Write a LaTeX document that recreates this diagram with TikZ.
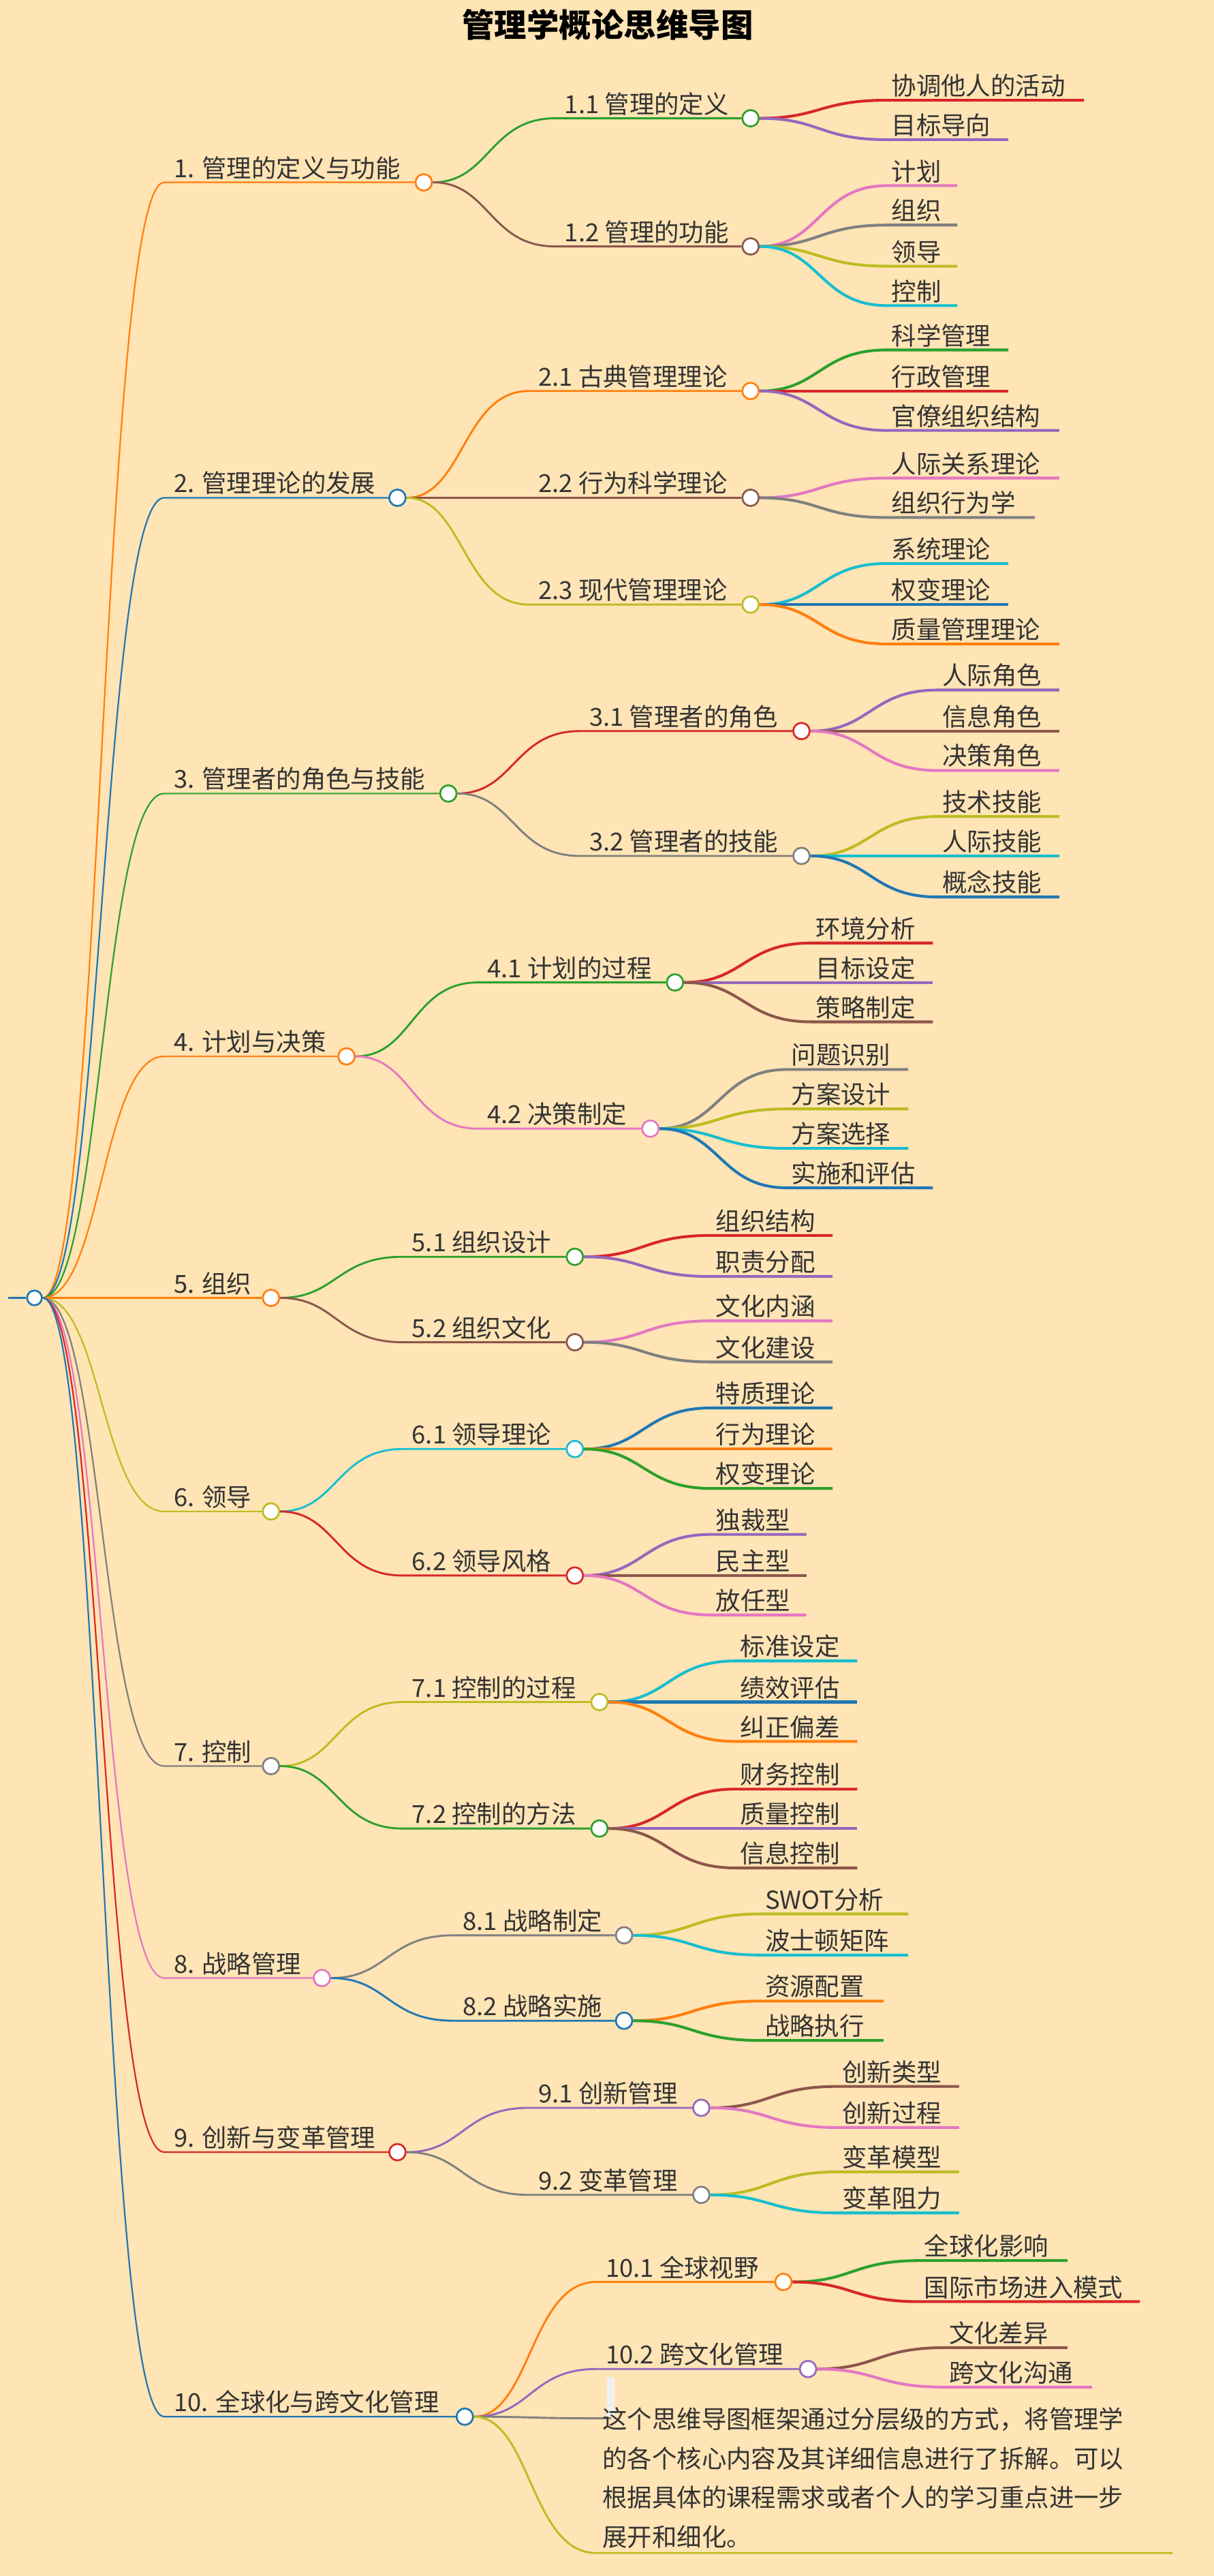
\documentclass[tikz,border=0pt]{standalone}
\usepackage{fontspec}
\setmainfont{Noto Sans CJK SC}
\usetikzlibrary{calc}
\pgfdeclarelayer{back}\pgfdeclarelayer{bg}\pgfsetlayers{back,bg,main}
\definecolor{cO}{HTML}{FF7F0E}\definecolor{cB}{HTML}{1F77B4}\definecolor{cG}{HTML}{2CA02C}
\definecolor{cR}{HTML}{D62728}\definecolor{cP}{HTML}{9467BD}\definecolor{cN}{HTML}{8C564B}
\definecolor{cK}{HTML}{E377C2}\definecolor{cA}{HTML}{7F7F7F}\definecolor{cY}{HTML}{BCBD22}
\definecolor{cC}{HTML}{17BECF}\definecolor{bgc}{HTML}{FFE4B5}\definecolor{tc}{HTML}{333333}
\tikzset{
 dot/.style={circle,fill=white,minimum size=0.5cm,inner sep=0pt,line width=1.6pt},
 txt/.style={inner sep=1pt,font=\fontsize{21.5}{26}\selectfont,text=tc},
 e1/.style={line width=1.3pt},e2/.style={line width=1.7pt},e3/.style={line width=2.4pt}}
% level 1: id y cx color text
\newcommand\Lone[5]{%
 \coordinate (#1s) at (100,#2);
 \node[dot,draw=#4] (#1c) at (#3,#2) {};
 \begin{pgfonlayer}{bg}\draw[#4,e1] (root) .. controls (root -| m0) and (#1s -| m0) .. (#1s) -- (#1c);\end{pgfonlayer}
 \node[txt,anchor=south west] (#1t) at ($(#1s)+(5,-1)$) {#5};}
% level 2: id parent y cx color text
\newcommand\Ltwo[6]{%
 \path (#2c) ++(80,0) coordinate (#1a) (#2c) ++(40,0) coordinate (#1m);
 \coordinate (#1y) at (0,#3);
 \coordinate (#1s) at (#1a |- #1y);
 \node[dot,draw=#5] (#1c) at (#4,#3) {};
 \begin{pgfonlayer}{bg}\draw[#5,e2] (#2c) .. controls (#2c -| #1m) and (#1s -| #1m) .. (#1s) -- (#1c);\end{pgfonlayer}
 \node[txt,anchor=south west] (#1t) at ($(#1s)+(5,-1)$) {#6};}
% level 3 leaf: id parent y endx color text
\newcommand\Lthr[6]{%
 \path (#2c) ++(83,0) coordinate (#1a) (#2c) ++(42,0) coordinate (#1m);
 \coordinate (#1y) at (0,#3);
 \coordinate (#1s) at (#1a |- #1y);
 \coordinate (#1e) at (#4,#3);
 \begin{pgfonlayer}{bg}\draw[#5,e3] (#2c) .. controls (#2c -| #1m) and (#1s -| #1m) .. (#1s) -- (#1e);\end{pgfonlayer}
 \node[txt,anchor=south west] (#1t) at ($(#1s)+(2,-1)$) {#6};}
\begin{document}
\begin{tikzpicture}[x=0.05cm,y=-0.05cm]
\begin{pgfonlayer}{back}\fill[bgc] (0,0) rectangle (739,1568);\end{pgfonlayer}
\useasboundingbox (0,0) rectangle (739,1568);
\node[font=\fontsize{28}{32}\selectfont\bfseries,text=black] (title) at (370,15) {管理学概论思维导图};
\coordinate (m0) at (62,0);
\coordinate (r0) at (5,790);
\node[dot,draw=cB,minimum size=0.45cm] (root) at (21,790) {};
\begin{pgfonlayer}{bg}\draw[cB,e1] (r0) -- (root);\end{pgfonlayer}
% 1
\Lone{a}{111}{258}{cO}{1. 管理的定义与功能}
\Ltwo{aa}{a}{72}{457}{cG}{1.1 管理的定义}
\Lthr{aaa}{aa}{61}{660}{cR}{协调他人的活动}
\Lthr{aab}{aa}{85}{614}{cP}{目标导向}
\Ltwo{ab}{a}{150}{457}{cN}{1.2 管理的功能}
\Lthr{aba}{ab}{113}{583}{cK}{计划}
\Lthr{abb}{ab}{137}{583}{cA}{组织}
\Lthr{abc}{ab}{162}{583}{cY}{领导}
\Lthr{abd}{ab}{186}{583}{cC}{控制}
% 2
\Lone{b}{303}{242}{cB}{2. 管理理论的发展}
\Ltwo{ba}{b}{238}{457}{cO}{2.1 古典管理理论}
\Lthr{baa}{ba}{213}{614}{cG}{科学管理}
\Lthr{bab}{ba}{238}{614}{cR}{行政管理}
\Lthr{bac}{ba}{262}{645}{cP}{官僚组织结构}
\Ltwo{bb}{b}{303}{457}{cN}{2.2 行为科学理论}
\Lthr{bba}{bb}{291}{645}{cK}{人际关系理论}
\Lthr{bbb}{bb}{315}{630}{cA}{组织行为学}
\Ltwo{bc}{b}{368}{457}{cY}{2.3 现代管理理论}
\Lthr{bca}{bc}{343}{614}{cC}{系统理论}
\Lthr{bcb}{bc}{368}{614}{cB}{权变理论}
\Lthr{bcc}{bc}{392}{645}{cO}{质量管理理论}
% 3
\Lone{c}{483}{273}{cG}{3. 管理者的角色与技能}
\Ltwo{ca}{c}{445}{488}{cR}{3.1 管理者的角色}
\Lthr{caa}{ca}{420}{645}{cP}{人际角色}
\Lthr{cab}{ca}{445}{645}{cN}{信息角色}
\Lthr{cac}{ca}{469}{645}{cK}{决策角色}
\Ltwo{cb}{c}{521}{488}{cA}{3.2 管理者的技能}
\Lthr{cba}{cb}{497}{645}{cY}{技术技能}
\Lthr{cbb}{cb}{521}{645}{cC}{人际技能}
\Lthr{cbc}{cb}{546}{645}{cB}{概念技能}
% 4
\Lone{d}{643}{211}{cO}{4. 计划与决策}
\Ltwo{da}{d}{598}{411}{cG}{4.1 计划的过程}
\Lthr{daa}{da}{574}{568}{cR}{环境分析}
\Lthr{dab}{da}{598}{568}{cP}{目标设定}
\Lthr{dac}{da}{622}{568}{cN}{策略制定}
\Ltwo{db}{d}{687}{396}{cK}{4.2 决策制定}
\Lthr{dba}{db}{651}{553}{cA}{问题识别}
\Lthr{dbb}{db}{675}{553}{cY}{方案设计}
\Lthr{dbc}{db}{699}{553}{cC}{方案选择}
\Lthr{dbd}{db}{723}{568}{cB}{实施和评估}
% 5
\Lone{e}{790}{165}{cO}{5. 组织}
\Ltwo{ea}{e}{765}{350}{cG}{5.1 组织设计}
\Lthr{eaa}{ea}{752}{507}{cR}{组织结构}
\Lthr{eab}{ea}{777}{507}{cP}{职责分配}
\Ltwo{eb}{e}{817}{350}{cN}{5.2 组织文化}
\Lthr{eba}{eb}{804}{507}{cK}{文化内涵}
\Lthr{ebb}{eb}{829}{507}{cA}{文化建设}
% 6
\Lone{f}{920}{165}{cY}{6. 领导}
\Ltwo{fa}{f}{882}{350}{cC}{6.1 领导理论}
\Lthr{faa}{fa}{857}{507}{cB}{特质理论}
\Lthr{fab}{fa}{882}{507}{cO}{行为理论}
\Lthr{fac}{fa}{906}{507}{cG}{权变理论}
\Ltwo{fb}{f}{959}{350}{cR}{6.2 领导风格}
\Lthr{fba}{fb}{934}{491}{cP}{独裁型}
\Lthr{fbb}{fb}{959}{491}{cN}{民主型}
\Lthr{fbc}{fb}{983}{491}{cK}{放任型}
% 7
\Lone{g}{1075}{165}{cA}{7. 控制}
\Ltwo{ga}{g}{1036}{365}{cY}{7.1 控制的过程}
\Lthr{gaa}{ga}{1011}{522}{cC}{标准设定}
\Lthr{gab}{ga}{1036}{522}{cB}{绩效评估}
\Lthr{gac}{ga}{1060}{522}{cO}{纠正偏差}
\Ltwo{gb}{g}{1113}{365}{cG}{7.2 控制的方法}
\Lthr{gba}{gb}{1089}{522}{cR}{财务控制}
\Lthr{gbb}{gb}{1113}{522}{cP}{质量控制}
\Lthr{gbc}{gb}{1137}{522}{cN}{信息控制}
% 8
\Lone{h}{1204}{196}{cK}{8. 战略管理}
\Ltwo{ha}{h}{1178}{380}{cA}{8.1 战略制定}
\Lthr{haa}{ha}{1165}{553}{cY}{SWOT分析}
\Lthr{hab}{ha}{1190}{553}{cC}{波士顿矩阵}
\Ltwo{hb}{h}{1230}{380}{cB}{8.2 战略实施}
\Lthr{hba}{hb}{1218}{538}{cO}{资源配置}
\Lthr{hbb}{hb}{1242}{538}{cG}{战略执行}
% 9
\Lone{i}{1310}{242}{cR}{9. 创新与变革管理}
\Ltwo{ia}{i}{1283}{427}{cP}{9.1 创新管理}
\Lthr{iaa}{ia}{1270}{584}{cN}{创新类型}
\Lthr{iab}{ia}{1295}{584}{cK}{创新过程}
\Ltwo{ib}{i}{1336}{427}{cA}{9.2 变革管理}
\Lthr{iba}{ib}{1322}{584}{cY}{变革模型}
\Lthr{ibb}{ib}{1347}{584}{cC}{变革阻力}
% 10
\Lone{j}{1471}{283}{cB}{10. 全球化与跨文化管理}
\Ltwo{ja}{j}{1389}{477}{cO}{10.1 全球视野}
\Lthr{jaa}{ja}{1376}{650}{cG}{全球化影响}
\Lthr{jab}{ja}{1401}{694}{cR}{国际市场进入模式}
\Ltwo{jb}{j}{1442}{492}{cP}{10.2 跨文化管理}
\Lthr{jba}{jb}{1429}{650}{cN}{文化差异}
\Lthr{jbb}{jb}{1453}{665}{cK}{跨文化沟通}
\coordinate (jcs) at (363,1472);
\coordinate (jce) at (372,1472);
\coordinate (jm) at (323,0);
\begin{pgfonlayer}{bg}\draw[cA,e2] (jc) .. controls (jc -| jm) and (jcs -| jm) .. (jcs) -- (jce);\end{pgfonlayer}
\node[fill=white!94!black,minimum width=0.22cm,minimum height=1.2cm,inner sep=0pt,anchor=south] (jcbox) at (372,1471) {};
\coordinate (jds) at (363,1554);
\coordinate (jde) at (714,1554);
\begin{pgfonlayer}{bg}\draw[cY,e2] (jc) .. controls (jc -| jm) and (jds -| jm) .. (jds) -- (jde);\end{pgfonlayer}
\node[txt,anchor=south west,align=left,font=\fontsize{21.5}{34}\selectfont] (jdt) at (366,1552) {这个思维导图框架通过分层级的方式，将管理学\\的各个核心内容及其详细信息进行了拆解。可以\\根据具体的课程需求或者个人的学习重点进一步\\展开和细化。};
\end{tikzpicture}
\end{document}
